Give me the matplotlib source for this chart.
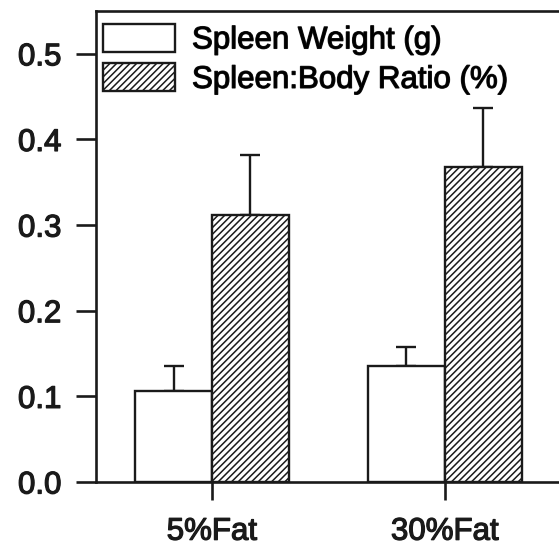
import numpy as np
import matplotlib
matplotlib.use('Agg')
import matplotlib.pyplot as plt
import matplotlib.patheffects as pe

# data
groups = ['5%Fat', '30%Fat']
weight = [0.106, 0.135]        # Spleen Weight (g)
weight_err = [0.029, 0.023]
ratio = [0.312, 0.368]         # Spleen:Body Ratio (%)
ratio_err = [0.070, 0.069]

plt.rcParams['font.family'] = ['Liberation Sans', 'DejaVu Sans']
plt.rcParams['hatch.linewidth'] = 1.1

ink = '#1a1a1a'
thick = [pe.withStroke(linewidth=0.9, foreground=ink)]

fig = plt.figure(figsize=(5.59, 5.46), dpi=100)
ax = fig.add_axes([95.5 / 559, 64 / 546, 1 - 95.5 / 559, 471 / 546])

x = np.arange(len(groups))
w = 0.33
lw = 1.7

ax.bar(x - w / 2, weight, w, color='white', edgecolor=ink, linewidth=lw,
       label='Spleen Weight (g)', zorder=2)
ax.bar(x + w / 2, ratio, w, color='white', edgecolor=ink, linewidth=lw,
       hatch='/////', label='Spleen:Body Ratio (%)', zorder=2)

ek = dict(fmt='none', ecolor=ink, elinewidth=lw, capsize=7.5, capthick=lw, zorder=1)
ax.errorbar(x - w / 2, weight, yerr=[np.zeros(2), weight_err], **ek)
ax.errorbar(x + w / 2, ratio, yerr=[np.zeros(2), ratio_err], **ek)

ax.set_xlim(-0.5, 1.49)
ax.set_ylim(0, 0.55)
ax.set_yticks([0.0, 0.1, 0.2, 0.3, 0.4, 0.5])
ax.set_yticklabels(['0.0', '0.1', '0.2', '0.3', '0.4', '0.5'])
ax.set_xticks(x)
ax.set_xticklabels(groups)

ax.spines['right'].set_visible(False)
for s in ['left', 'top', 'bottom']:
    ax.spines[s].set_linewidth(1.9)
    ax.spines[s].set_color(ink)

ax.tick_params(axis='y', direction='out', length=14.5, width=1.9, pad=10,
               labelsize=22.5, colors=ink)
ax.tick_params(axis='x', direction='out', length=13, width=1.9, pad=12,
               labelsize=22.5, colors=ink)

leg = ax.legend(loc='upper left', bbox_to_anchor=(0.016, 0.973), frameon=False,
                fontsize=22.5, handlelength=2.3, handleheight=1.0, handletextpad=0.55,
                labelspacing=0.25, borderpad=0, borderaxespad=0)

for t in ax.get_xticklabels() + ax.get_yticklabels() + leg.get_texts():
    t.set_path_effects(thick)

fig.savefig('out.png', dpi=100)
